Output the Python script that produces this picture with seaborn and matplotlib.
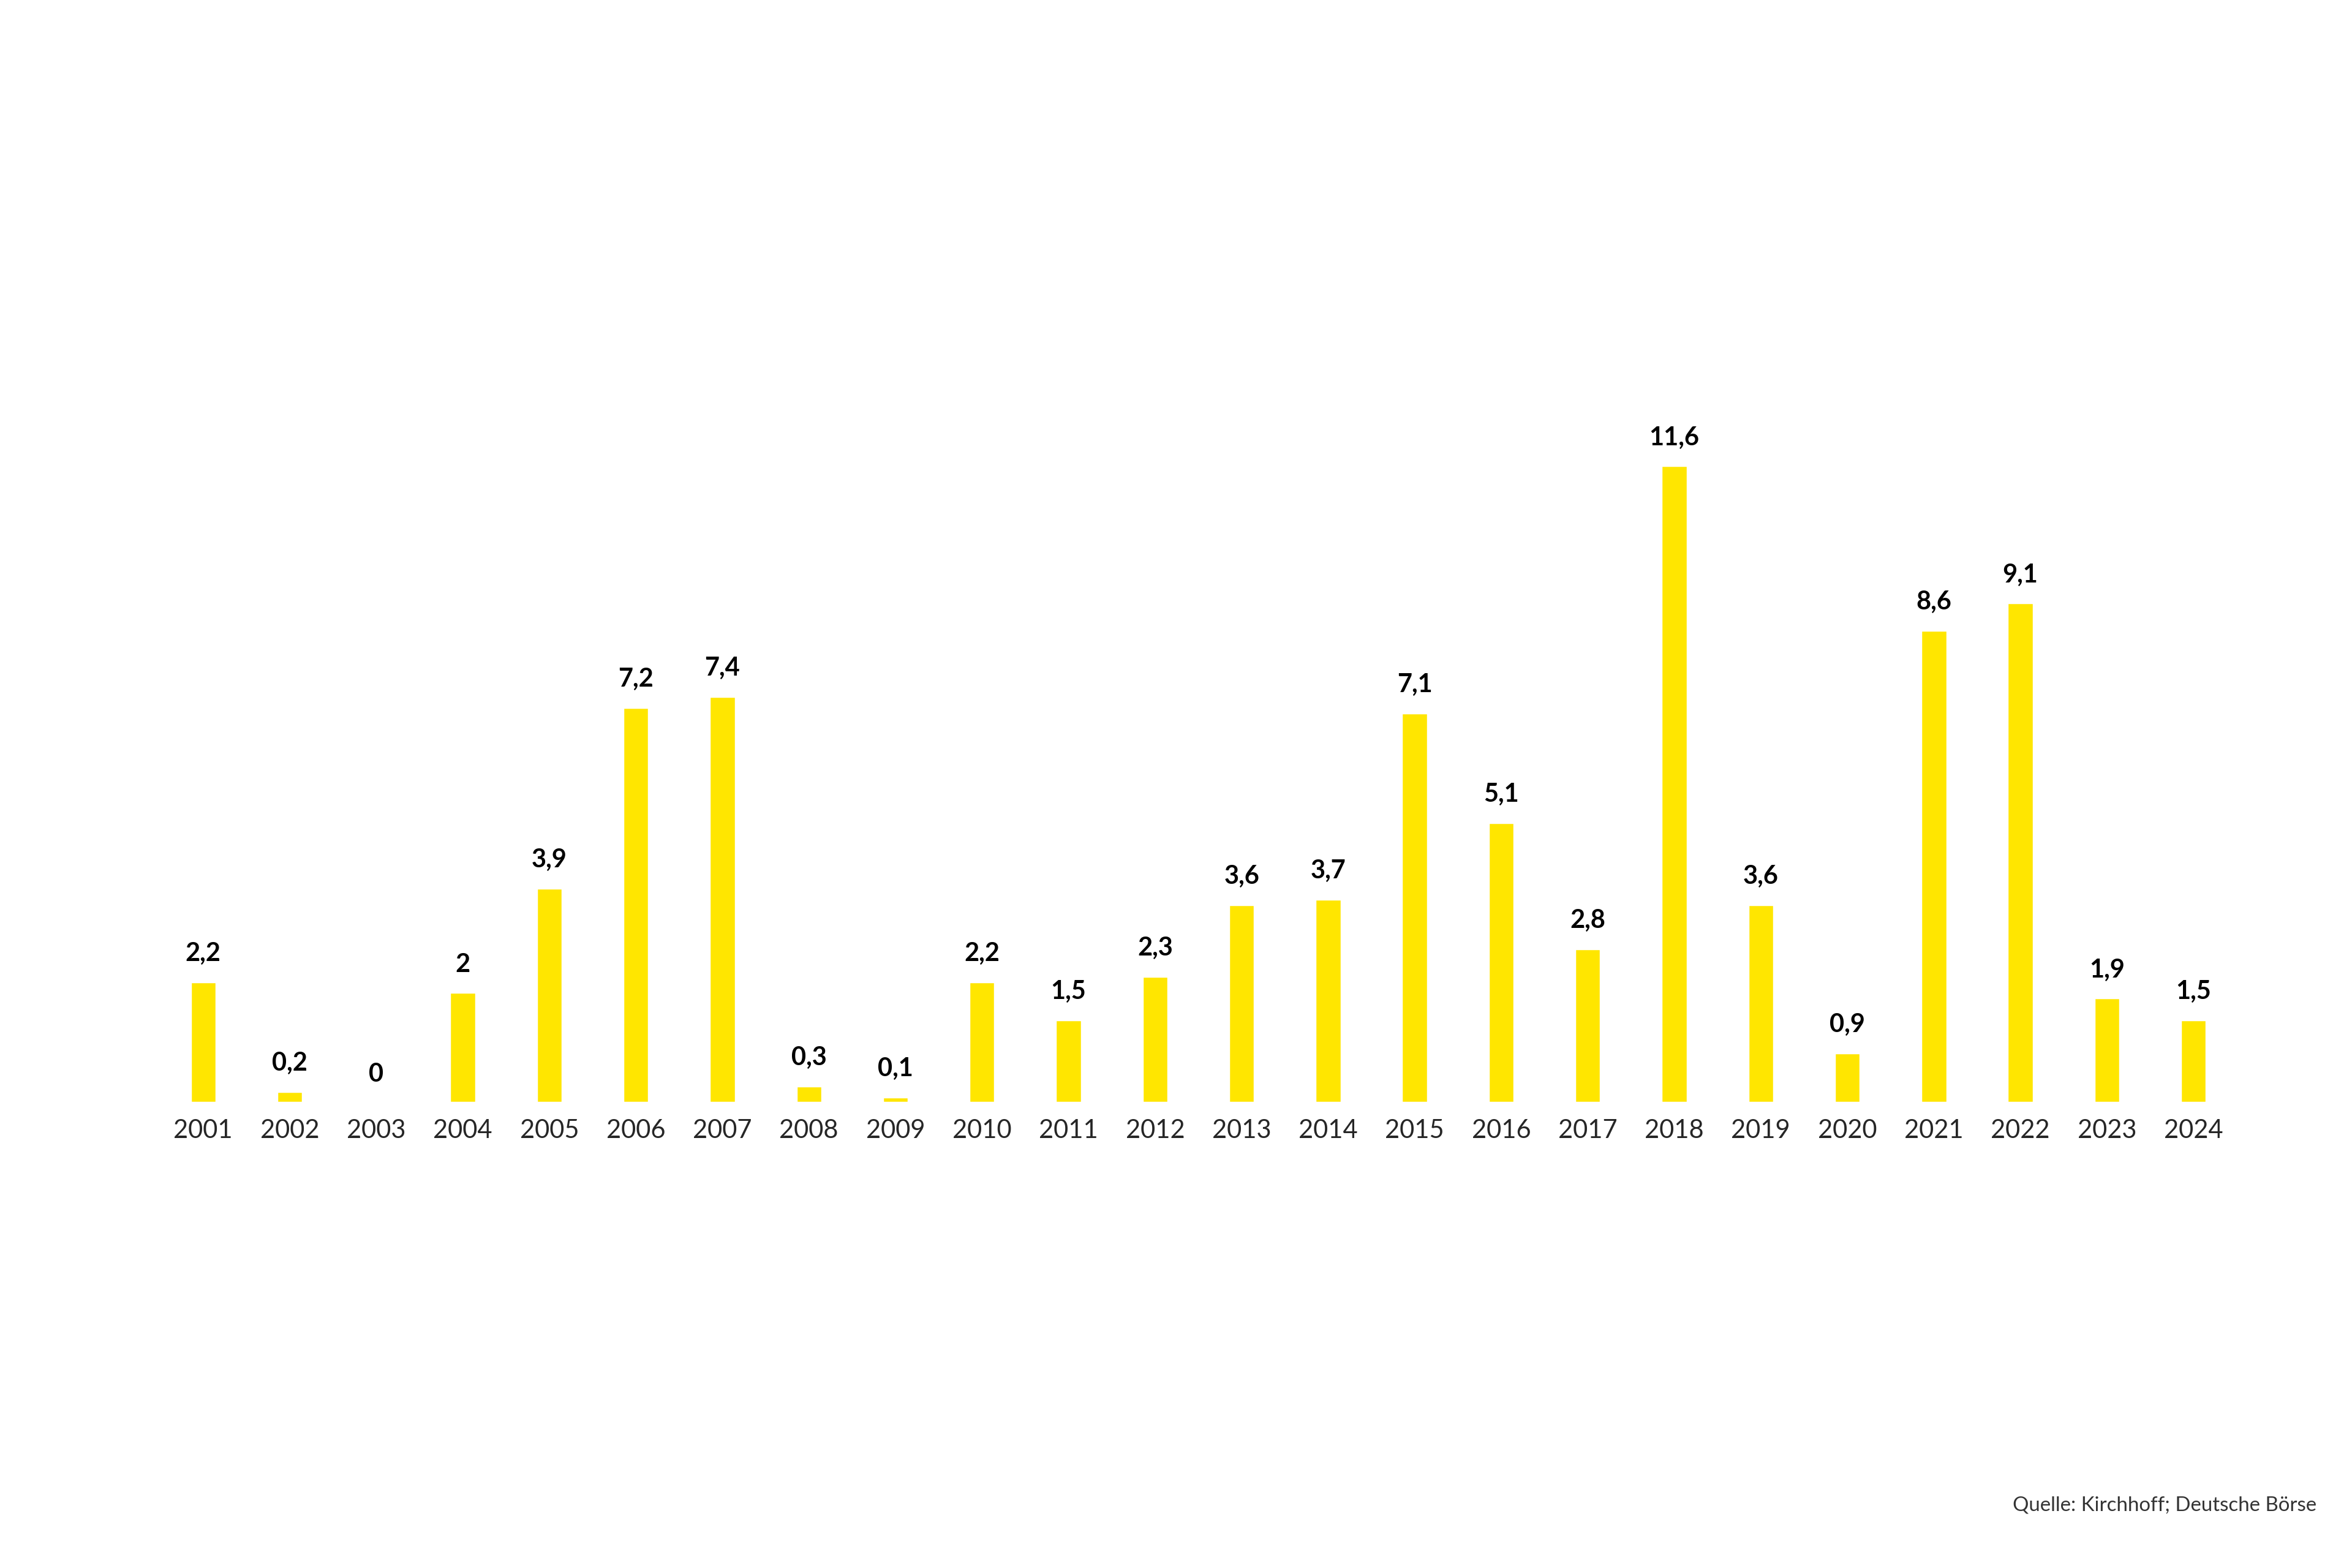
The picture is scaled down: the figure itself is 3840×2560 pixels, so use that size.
import matplotlib
matplotlib.use('Agg')
import matplotlib.pyplot as plt
import seaborn as sns
import pandas as pd

years = [str(y) for y in range(2001, 2025)]
values = [2.2, 0.2, 0, 2, 3.9, 7.2, 7.4, 0.3, 0.1, 2.2, 1.5, 2.3,
          3.6, 3.7, 7.1, 5.1, 2.8, 11.6, 3.6, 0.9, 8.6, 9.1, 1.9, 1.5]
source = 'Quelle: Kirchhoff; Deutsche Börse'

sns.set_style('white')
plt.rcParams['font.family'] = ['Lato', 'DejaVu Sans']

df = pd.DataFrame({'year': years, 'value': values})

fig = plt.figure(figsize=(15.36, 10.24), dpi=250)
ax = fig.add_axes([0.068, 0.297, 0.883, 0.42])
sns.barplot(data=df, x='year', y='value', color='#FFE600', saturation=1,
            width=0.3, ax=ax)
ax.set_ylim(0, 12)
ax.set_xlim(-0.5, len(years) - 0.5)

for i, v in enumerate(values):
    lab = ('%g' % v).replace('.', ',')
    ax.text(i, v + 0.3, lab, ha='center', va='bottom', fontsize=12,
            fontweight='bold', color='black')

ax.set_xlabel('')
ax.set_ylabel('')
ax.set_yticks([])
ax.tick_params(axis='x', length=0, labelsize=12, pad=8)
sns.despine(ax=ax, left=True, bottom=True)

fig.text(0.985, 0.034, source, ha='right', va='bottom', fontsize=9.5,
         color='#333333')

fig.savefig('out.png', dpi=250)
